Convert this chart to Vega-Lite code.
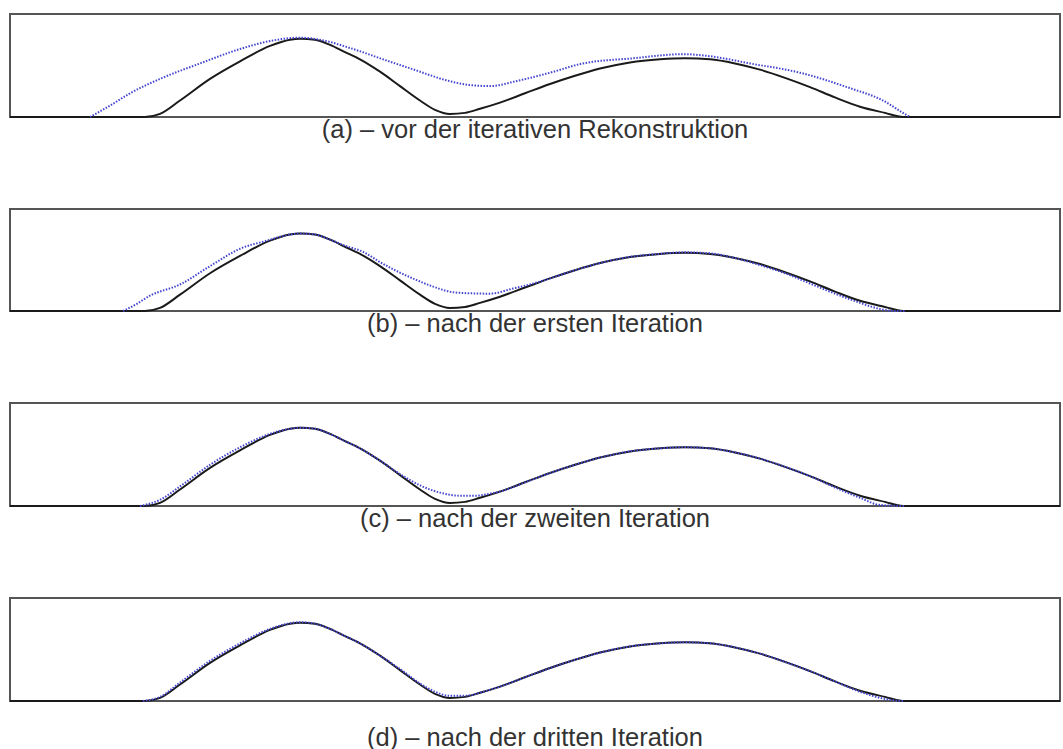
{
  "$schema": "https://vega.github.io/schema/vega-lite/v6.json",
  "padding": {"left": 5, "top": 13, "right": 0, "bottom": 0},
  "background": "white",
  "config": {
    "view": {"stroke": "#555555", "strokeWidth": 2},
    "title": {"font": "Liberation Sans", "fontSize": 25.5, "fontWeight": "normal", "color": "#333333", "orient": "bottom", "anchor": "middle", "offset": -3},
    "axis": {"disable": true}
  },
  "spacing": 63,
  "datasets": {
    "ref": [
      {"x": 10, "v": 0}, {"x": 145, "v": 0}, {"x": 160, "v": 0.03}, {"x": 180, "v": 0.16}, {"x": 210, "v": 0.37}, {"x": 240, "v": 0.54}, {"x": 270, "v": 0.69}, {"x": 290, "v": 0.75}, {"x": 300, "v": 0.76}, {"x": 315, "v": 0.75}, {"x": 330, "v": 0.70}, {"x": 345, "v": 0.63}, {"x": 360, "v": 0.56}, {"x": 380, "v": 0.44}, {"x": 400, "v": 0.30}, {"x": 420, "v": 0.16}, {"x": 435, "v": 0.07}, {"x": 450, "v": 0.03}, {"x": 465, "v": 0.04}, {"x": 480, "v": 0.08}, {"x": 500, "v": 0.14}, {"x": 525, "v": 0.23}, {"x": 550, "v": 0.32}, {"x": 575, "v": 0.40}, {"x": 600, "v": 0.47}, {"x": 630, "v": 0.53}, {"x": 660, "v": 0.56}, {"x": 685, "v": 0.57}, {"x": 710, "v": 0.56}, {"x": 735, "v": 0.52}, {"x": 760, "v": 0.46}, {"x": 785, "v": 0.38}, {"x": 810, "v": 0.29}, {"x": 835, "v": 0.19}, {"x": 860, "v": 0.10}, {"x": 885, "v": 0.04}, {"x": 903, "v": 0}, {"x": 1060, "v": 0}
    ],
    "a": [
      {"x": 90, "v": 0}, {"x": 110, "v": 0.11}, {"x": 130, "v": 0.23}, {"x": 160, "v": 0.37}, {"x": 200, "v": 0.52}, {"x": 240, "v": 0.66}, {"x": 277, "v": 0.75}, {"x": 300, "v": 0.77}, {"x": 320, "v": 0.75}, {"x": 350, "v": 0.67}, {"x": 383, "v": 0.56}, {"x": 417, "v": 0.45}, {"x": 445, "v": 0.36}, {"x": 470, "v": 0.31}, {"x": 490, "v": 0.30}, {"x": 517, "v": 0.35}, {"x": 550, "v": 0.43}, {"x": 583, "v": 0.52}, {"x": 633, "v": 0.57}, {"x": 683, "v": 0.61}, {"x": 710, "v": 0.59}, {"x": 750, "v": 0.52}, {"x": 800, "v": 0.43}, {"x": 850, "v": 0.28}, {"x": 883, "v": 0.16}, {"x": 903, "v": 0.04}, {"x": 910, "v": 0}
    ],
    "b": [
      {"x": 123, "v": 0}, {"x": 135, "v": 0.06}, {"x": 150, "v": 0.15}, {"x": 180, "v": 0.26}, {"x": 210, "v": 0.44}, {"x": 240, "v": 0.61}, {"x": 267, "v": 0.69}, {"x": 290, "v": 0.75}, {"x": 300, "v": 0.76}, {"x": 315, "v": 0.75}, {"x": 330, "v": 0.70}, {"x": 345, "v": 0.64}, {"x": 363, "v": 0.58}, {"x": 380, "v": 0.48}, {"x": 397, "v": 0.39}, {"x": 415, "v": 0.31}, {"x": 430, "v": 0.25}, {"x": 457, "v": 0.18}, {"x": 490, "v": 0.17}, {"x": 513, "v": 0.22}, {"x": 530, "v": 0.26}, {"x": 550, "v": 0.32}, {"x": 575, "v": 0.40}, {"x": 600, "v": 0.47}, {"x": 630, "v": 0.53}, {"x": 660, "v": 0.56}, {"x": 685, "v": 0.575}, {"x": 710, "v": 0.565}, {"x": 735, "v": 0.52}, {"x": 760, "v": 0.45}, {"x": 785, "v": 0.37}, {"x": 810, "v": 0.27}, {"x": 835, "v": 0.17}, {"x": 860, "v": 0.08}, {"x": 880, "v": 0.02}, {"x": 895, "v": 0}, {"x": 905, "v": 0}
    ],
    "c": [
      {"x": 140, "v": 0}, {"x": 160, "v": 0.06}, {"x": 180, "v": 0.19}, {"x": 210, "v": 0.40}, {"x": 240, "v": 0.57}, {"x": 270, "v": 0.70}, {"x": 290, "v": 0.75}, {"x": 300, "v": 0.76}, {"x": 315, "v": 0.75}, {"x": 330, "v": 0.70}, {"x": 345, "v": 0.63}, {"x": 360, "v": 0.56}, {"x": 380, "v": 0.44}, {"x": 400, "v": 0.31}, {"x": 420, "v": 0.20}, {"x": 440, "v": 0.13}, {"x": 460, "v": 0.10}, {"x": 475, "v": 0.10}, {"x": 490, "v": 0.12}, {"x": 500, "v": 0.14}, {"x": 525, "v": 0.23}, {"x": 550, "v": 0.32}, {"x": 575, "v": 0.40}, {"x": 600, "v": 0.47}, {"x": 630, "v": 0.53}, {"x": 660, "v": 0.56}, {"x": 685, "v": 0.57}, {"x": 710, "v": 0.56}, {"x": 735, "v": 0.52}, {"x": 760, "v": 0.46}, {"x": 785, "v": 0.38}, {"x": 810, "v": 0.29}, {"x": 835, "v": 0.18}, {"x": 860, "v": 0.08}, {"x": 880, "v": 0.01}, {"x": 905, "v": 0}
    ],
    "d": [
      {"x": 143, "v": 0}, {"x": 160, "v": 0.04}, {"x": 180, "v": 0.18}, {"x": 210, "v": 0.39}, {"x": 240, "v": 0.56}, {"x": 270, "v": 0.70}, {"x": 290, "v": 0.755}, {"x": 300, "v": 0.765}, {"x": 315, "v": 0.75}, {"x": 330, "v": 0.70}, {"x": 345, "v": 0.63}, {"x": 360, "v": 0.56}, {"x": 380, "v": 0.44}, {"x": 400, "v": 0.31}, {"x": 420, "v": 0.17}, {"x": 435, "v": 0.09}, {"x": 450, "v": 0.05}, {"x": 465, "v": 0.05}, {"x": 480, "v": 0.08}, {"x": 500, "v": 0.14}, {"x": 525, "v": 0.23}, {"x": 550, "v": 0.32}, {"x": 575, "v": 0.40}, {"x": 600, "v": 0.47}, {"x": 630, "v": 0.53}, {"x": 660, "v": 0.56}, {"x": 685, "v": 0.57}, {"x": 710, "v": 0.56}, {"x": 735, "v": 0.52}, {"x": 760, "v": 0.46}, {"x": 785, "v": 0.38}, {"x": 810, "v": 0.29}, {"x": 835, "v": 0.19}, {"x": 860, "v": 0.09}, {"x": 885, "v": 0.02}, {"x": 903, "v": 0}
    ]
  },
  "vconcat": [
    {
      "width": 1050, "height": 103,
      "title": {"text": "(a) – vor der iterativen Rekonstruktion"},
      "encoding": {
        "x": {"field": "x", "type": "quantitative", "scale": {"domain": [10, 1060], "nice": false, "zero": false}, "axis": null},
        "y": {"field": "v", "type": "quantitative", "scale": {"domain": [0, 1], "nice": false}, "axis": null}
      },
      "layer": [
        {"data": {"name": "ref"}, "mark": {"type": "line", "color": "#1a1a1a", "strokeWidth": 2, "interpolate": "monotone"}},
        {"data": {"name": "a"}, "mark": {"type": "line", "color": "#4545d0", "strokeWidth": 2, "strokeDash": [1.5, 1.5], "interpolate": "monotone"}}
      ]
    },
    {
      "width": 1050, "height": 102,
      "title": {"text": "(b) – nach der ersten Iteration"},
      "encoding": {
        "x": {"field": "x", "type": "quantitative", "scale": {"domain": [10, 1060], "nice": false, "zero": false}, "axis": null},
        "y": {"field": "v", "type": "quantitative", "scale": {"domain": [0, 1], "nice": false}, "axis": null}
      },
      "layer": [
        {"data": {"name": "ref"}, "mark": {"type": "line", "color": "#1a1a1a", "strokeWidth": 2, "interpolate": "monotone"}},
        {"data": {"name": "b"}, "mark": {"type": "line", "color": "#4545d0", "strokeWidth": 2, "strokeDash": [1.5, 1.5], "interpolate": "monotone"}}
      ]
    },
    {
      "width": 1050, "height": 103,
      "title": {"text": "(c) – nach der zweiten Iteration"},
      "encoding": {
        "x": {"field": "x", "type": "quantitative", "scale": {"domain": [10, 1060], "nice": false, "zero": false}, "axis": null},
        "y": {"field": "v", "type": "quantitative", "scale": {"domain": [0, 1], "nice": false}, "axis": null}
      },
      "layer": [
        {"data": {"name": "ref"}, "mark": {"type": "line", "color": "#1a1a1a", "strokeWidth": 2, "interpolate": "monotone"}},
        {"data": {"name": "c"}, "mark": {"type": "line", "color": "#4545d0", "strokeWidth": 2, "strokeDash": [1.5, 1.5], "interpolate": "monotone"}}
      ]
    },
    {
      "width": 1050, "height": 103,
      "title": {"text": "(d) – nach der dritten Iteration", "offset": 21},
      "encoding": {
        "x": {"field": "x", "type": "quantitative", "scale": {"domain": [10, 1060], "nice": false, "zero": false}, "axis": null},
        "y": {"field": "v", "type": "quantitative", "scale": {"domain": [0, 1], "nice": false}, "axis": null}
      },
      "layer": [
        {"data": {"name": "ref"}, "mark": {"type": "line", "color": "#1a1a1a", "strokeWidth": 2, "interpolate": "monotone"}},
        {"data": {"name": "d"}, "mark": {"type": "line", "color": "#4545d0", "strokeWidth": 2, "strokeDash": [1.5, 1.5], "interpolate": "monotone"}}
      ]
    }
  ]
}
